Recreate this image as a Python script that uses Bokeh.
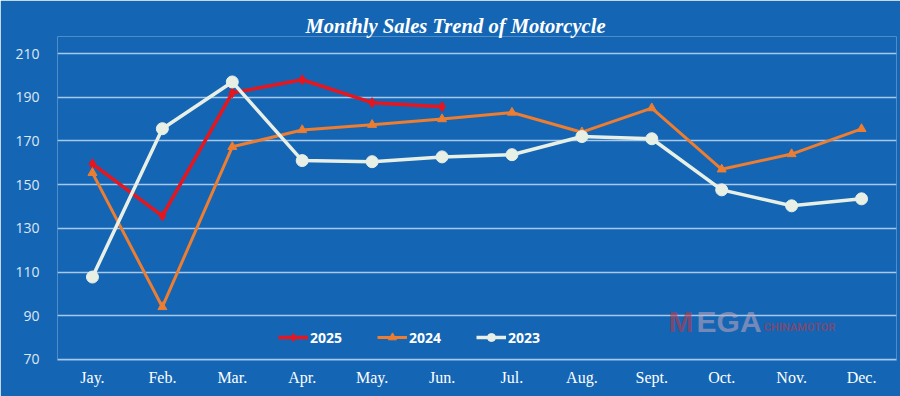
from bokeh.plotting import figure
from bokeh.models import FixedTicker, Legend, LegendItem, Label, Range1d, FactorRange
from bokeh.embed import file_html
from bokeh.resources import INLINE

months = ["Jay.", "Feb.", "Mar.", "Apr.", "May.", "Jun.", "Jul.", "Aug.", "Sept.", "Oct.", "Nov.", "Dec."]
sales_2025 = [159.5, 135.7, 192.0, 198.0, 187.5, 185.7]
sales_2024 = [155.4, 94.0, 167.3, 175.0, 177.4, 180.0, 183.0, 174.0, 185.0, 157.0, 164.0, 175.5]
sales_2023 = [107.7, 175.6, 197.0, 161.0, 160.5, 162.7, 163.7, 172.0, 171.0, 147.6, 140.3, 143.5]
y_ticks = [70, 90, 110, 130, 150, 170, 190, 210]

BG = "#1466b5"

p = figure(width=900, height=396, x_range=FactorRange(*months), y_range=Range1d(69.5, 217.8),
           output_backend="svg", toolbar_location=None,
           min_border_left=57, min_border_right=4, min_border_bottom=36, min_border_top=36)

p.background_fill_color = BG
p.border_fill_color = BG
p.outline_line_color = None

p.title.text = "Monthly Sales Trend of Motorcycle"
p.title.align = "left"
p.title.offset = 248
p.title.text_color = "white"
p.title.text_font = "Liberation Serif"
p.title.text_font_style = "bold italic"
p.title.text_font_size = "20.6px"
p.title.standoff = 0

p.xgrid.grid_line_color = None
p.ygrid.grid_line_color = "#a6c8ea"
p.ygrid.grid_line_width = 1.5
p.yaxis.ticker = FixedTicker(ticks=y_ticks)

for ax in (p.xaxis, p.yaxis):
    ax.axis_line_color = None
    ax.major_tick_line_color = None
    ax.minor_tick_line_color = None
    ax.major_tick_out = 0
    ax.major_tick_in = 0
    ax.axis_label_standoff = 0

p.yaxis.major_label_text_font = "Open Sans"
p.yaxis.major_label_text_font_size = "14px"
p.yaxis.major_label_text_color = "#dfe8f2"
p.yaxis.major_label_standoff = 18

p.xaxis.major_label_text_font = "Liberation Serif"
p.xaxis.major_label_text_font_size = "16px"
p.xaxis.major_label_text_color = "white"
p.xaxis.major_label_standoff = 8

# watermark
p.add_layout(Label(x=8.74, y=80.0, text="M", text_font="Liberation Sans", text_font_style="bold",
                   text_font_size="30px", text_color="#b83848", text_alpha=0.6))
p.add_layout(Label(x=9.14, y=80.0, text="EGA", text_font="Liberation Sans", text_font_style="bold",
                   text_font_size="30px", text_color="#c9a8bc", text_alpha=0.55))
p.add_layout(Label(x=10.10, y=81.6, text="CHINAMOTOR", text_font="Roboto", text_font_style="bold",
                   text_font_size="11px", text_color="#b83848", text_alpha=0.6))

c25, c24, c23 = "#e5161d", "#ec7d31", "#e8efe5"

l25 = p.line(months[:len(sales_2025)], sales_2025, line_color=c25, line_width=3.5)
m25 = p.scatter(months[:len(sales_2025)], sales_2025, marker="diamond", size=10, color=c25)
l24 = p.line(months, sales_2024, line_color=c24, line_width=3)
m24 = p.scatter(months, sales_2024, marker="triangle", size=9, color=c24)
l23 = p.line(months, sales_2023, line_color=c23, line_width=3.5)
m23 = p.scatter(months, sales_2023, marker="circle", size=12, color=c23)

legend = Legend(items=[LegendItem(label="2025", renderers=[l25, m25]),
                       LegendItem(label="2024", renderers=[l24, m24]),
                       LegendItem(label="2023", renderers=[l23, m23])],
                orientation="horizontal", location=(221, 13),
                background_fill_alpha=0, border_line_color=None,
                label_text_color="white", label_text_font="Open Sans", label_text_font_style="bold",
                label_text_font_size="14px", glyph_width=30, label_standoff=2, spacing=35,
                padding=0, margin=0)
p.add_layout(legend)

open("out.html", "w").write(file_html(p, INLINE))
